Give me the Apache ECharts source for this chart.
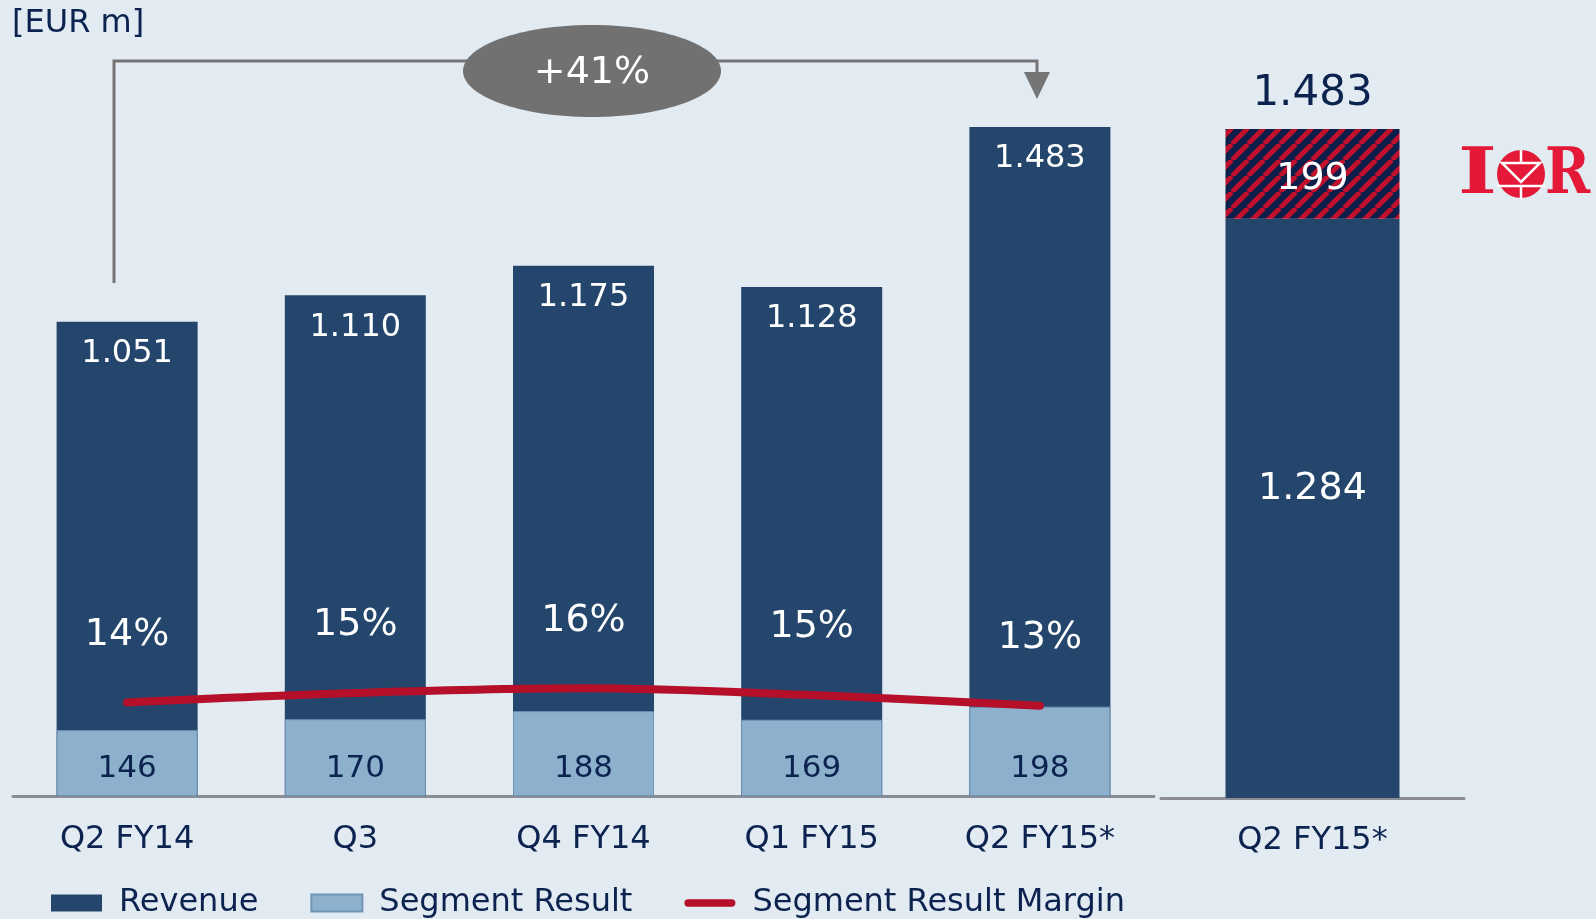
<!DOCTYPE html>
<html>
<head>
<meta charset="utf-8">
<script src="https://cdn.jsdelivr.net/npm/echarts@6/dist/echarts.min.js"></script>
<style>
  html, body { margin: 0; padding: 0; background: #e2eaf2; }
  #chart { width: 1596px; height: 919px; }
</style>
</head>
<body>
<div id="chart"></div>
<script>
// quarterly data, EUR m
const categories = ["Q2 FY14", "Q3", "Q4 FY14", "Q1 FY15", "Q2 FY15*"];
const revenue = [1051, 1110, 1175, 1128, 1483];
const segmentResult = [146, 170, 188, 169, 198];
const segmentMargin = [13.9, 15.3, 16.0, 15.0, 13.4]; // percent

// right panel: Q2 FY15 split into Infineon + IOR
const proFormaCategory = ["Q2 FY15*"];
const proFormaBase = [1284];
const proFormaIor = [199];
const proFormaTotal = [1483];

const growthText = "+41%";

const NAVY_TEXT = "#0c2350";
const DARK_BAR = "#24466c";
const LIGHT_BAR = "#8db1cd";
const RED = "#b50f2a";
const FONT = "DejaVu Sans";

// 1.051 style number format
function fmt(v) {
  return Math.floor(v / 1000) + "." + String(v % 1000).padStart(3, "0");
}

// diagonal hatch for the IOR part
function hatch() {
  const s = 16;
  const c = document.createElement("canvas");
  c.width = s;
  c.height = s;
  const ctx = c.getContext("2d");
  ctx.fillStyle = "#0b1f4a";
  ctx.fillRect(0, 0, s, s);
  ctx.strokeStyle = "#c0102c";
  ctx.lineWidth = 5;
  [-s, 0, s].forEach((dx) => {
    ctx.beginPath();
    ctx.moveTo(dx, s);
    ctx.lineTo(dx + s, 0);
    ctx.stroke();
  });
  return c;
}

const chart = echarts.init(document.getElementById("chart"));

const option = {
  backgroundColor: "#e2eaf2",
  textStyle: { fontFamily: FONT },
  animation: false,
  legend: {
    left: 46,
    top: 882,
    itemWidth: 51,
    itemHeight: 17,
    itemGap: 52,
    selectedMode: false,
    symbolKeepAspect: true,
    textStyle: { color: NAVY_TEXT, fontSize: 32, fontFamily: FONT, padding: [0, 0, 0, 12] },
    data: [
      { name: "Revenue", icon: "rect" },
      { name: "Segment Result", icon: "rect" },
      { name: "Segment Result Margin", icon: "path://M4,0 L51,0 A4,4 0 0 1 51,8 L4,8 A4,4 0 0 1 4,0 Z" },
    ],
  },
  grid: [
    { left: 13, width: 1141, top: 29, bottom: 123 },
    { left: 1161, width: 303, top: 31, bottom: 121 },
  ],
  xAxis: [
    {
      type: "category",
      gridIndex: 0,
      data: categories,
      axisLine: { lineStyle: { color: "#8a8d96", width: 3 } },
      axisTick: { show: false },
      axisLabel: { color: NAVY_TEXT, fontSize: 32, margin: 28 },
    },
    {
      type: "category",
      gridIndex: 1,
      data: proFormaCategory,
      axisLine: { lineStyle: { color: "#8a8d96", width: 3 } },
      axisTick: { show: false },
      axisLabel: { color: NAVY_TEXT, fontSize: 32, margin: 27 },
    },
  ],
  yAxis: [
    { type: "value", gridIndex: 0, min: 0, max: 1700, show: false },
    { type: "value", gridIndex: 0, min: 0, max: 114, show: false },
    { type: "value", gridIndex: 1, min: 0, max: 1700, show: false },
  ],
  series: [
    {
      name: "Revenue",
      type: "bar",
      xAxisIndex: 0,
      yAxisIndex: 0,
      barWidth: 141,
      data: revenue,
      itemStyle: { color: DARK_BAR },
      label: {
        show: true,
        position: "insideTop",
        distance: 16,
        color: "#fff",
        fontSize: 32,
        formatter: (p) => fmt(p.value),
      },
    },
    {
      name: "Segment Result",
      type: "bar",
      xAxisIndex: 0,
      yAxisIndex: 0,
      barWidth: 141,
      barGap: "-100%",
      data: segmentResult,
      itemStyle: { color: LIGHT_BAR, borderColor: "#6f93b5", borderWidth: 1 },
      label: {
        show: true,
        position: "insideBottom",
        distance: 12,
        color: NAVY_TEXT,
        fontSize: 31,
      },
    },
    {
      name: "Segment Result Margin",
      type: "line",
      xAxisIndex: 0,
      yAxisIndex: 1,
      data: segmentMargin,
      smooth: 0.35,
      symbol: "circle",
      symbolSize: 1,
      itemStyle: { color: RED },
      lineStyle: { color: RED, width: 8, cap: "round" },
      label: {
        show: true,
        position: "top",
        distance: 48,
        color: "#fff",
        fontSize: 38,
        formatter: (p) => Math.round(p.value) + "%",
      },
      z: 5,
    },
    {
      name: "Base",
      type: "bar",
      xAxisIndex: 1,
      yAxisIndex: 2,
      stack: "pf",
      barWidth: 174,
      data: proFormaBase,
      itemStyle: { color: DARK_BAR },
      label: {
        show: true,
        position: "inside",
        offset: [0, -19],
        color: "#fff",
        fontSize: 38,
        formatter: (p) => fmt(p.value),
      },
    },
    {
      name: "IOR",
      type: "bar",
      xAxisIndex: 1,
      yAxisIndex: 2,
      stack: "pf",
      barWidth: 174,
      data: proFormaIor,
      itemStyle: { color: { image: hatch(), repeat: "repeat" } },
      label: {
        show: true,
        position: "inside",
        offset: [0, 5],
        color: "#fff",
        fontSize: 38,
      },
    },
    {
      name: "Total",
      type: "scatter",
      xAxisIndex: 1,
      yAxisIndex: 2,
      data: proFormaTotal,
      symbolSize: 0,
      itemStyle: { opacity: 1 },
      label: {
        show: true,
        position: "top",
        distance: 14,
        color: NAVY_TEXT,
        fontSize: 42,
        formatter: (p) => fmt(p.value),
      },
    },
  ],
  graphic: [
    {
      type: "text",
      left: 12,
      top: 8,
      style: { text: "[EUR m]", fill: NAVY_TEXT, fontSize: 32, fontFamily: FONT },
    },
    // growth arrow
    {
      type: "polyline",
      shape: { points: [[114, 283], [114, 61], [1037, 61], [1037, 74]] },
      style: { stroke: "#757575", lineWidth: 3, fill: null },
      z: 10,
    },
    {
      type: "polygon",
      shape: { points: [[1024, 72], [1050, 72], [1037, 99]] },
      style: { fill: "#757575" },
      z: 10,
    },
    {
      type: "ellipse",
      shape: { cx: 592, cy: 71, rx: 129, ry: 46 },
      style: { fill: "#717171" },
      z: 11,
    },
    {
      type: "text",
      x: 592,
      y: 73,
      style: {
        text: growthText, fill: "#fff", fontSize: 38, fontFamily: FONT,
        align: "center", verticalAlign: "middle",
      },
      z: 12,
    },
    // IOR logo
    {
      type: "group",
      z: 10,
      children: [
        {
          type: "text",
          x: 1458,
          y: 176,
          scaleX: 1.3,
          style: {
            text: "I", fill: "#e31937", fontSize: 64, fontWeight: "bold",
            fontFamily: "DejaVu Serif", verticalAlign: "middle",
          },
        },
        { type: "circle", shape: { cx: 1521, cy: 174, r: 24 }, style: { fill: "#e31937" } },
        {
          type: "polyline",
          shape: { points: [[1521, 150], [1521, 163]] },
          style: { stroke: "#fff", lineWidth: 2.5 },
        },
        {
          type: "polygon",
          shape: { points: [[1502, 163], [1540, 163], [1521, 182]] },
          style: { fill: "#e31937", stroke: "#fff", lineWidth: 2.5 },
        },
        {
          type: "polyline",
          shape: { points: [[1497, 186], [1545, 186]] },
          style: { stroke: "#fff", lineWidth: 2.5 },
        },
        {
          type: "polyline",
          shape: { points: [[1521, 186], [1521, 199]] },
          style: { stroke: "#fff", lineWidth: 2.5 },
        },
        {
          type: "text",
          x: 1545,
          y: 176,
          scaleX: 0.85,
          style: {
            text: "R", fill: "#e31937", fontSize: 64, fontWeight: "bold",
            fontFamily: "DejaVu Serif", verticalAlign: "middle",
          },
        },
      ],
    },
  ],
};

chart.setOption(option);
</script>
</body>
</html>
